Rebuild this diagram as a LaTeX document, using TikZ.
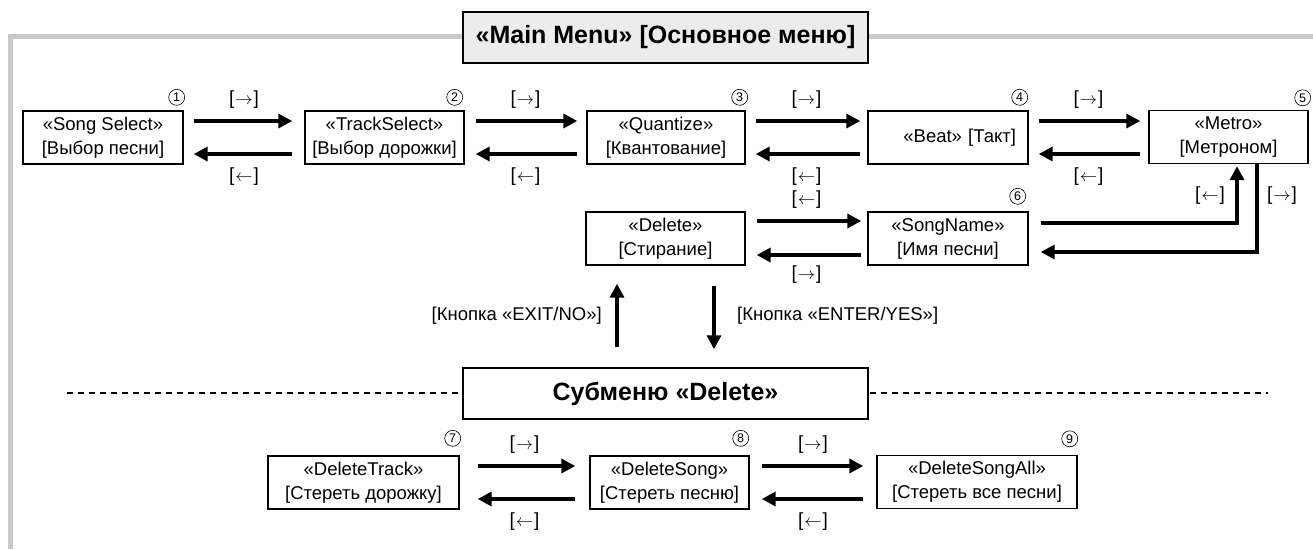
\documentclass[tikz,border=0pt]{standalone}
\usepackage{fontspec}
\setmainfont{Liberation Sans}
\usetikzlibrary{arrows.meta,calc}
\definecolor{framegray}{RGB}{200,200,200}
\definecolor{titlefill}{RGB}{236,236,236}
\newcommand{\keyR}{{[}$\mkern1mu\rightarrow\mkern1mu${]}}
\newcommand{\keyL}{{[}$\mkern1mu\leftarrow\mkern1mu${]}}
\begin{document}
\begin{tikzpicture}[x=1pt,y=-1pt,
  box/.style={draw, line width=1.4pt, minimum height=53pt, align=center, inner sep=0pt,
    font=\fontsize{18.5}{24}\selectfont},
  titlebox/.style={draw, line width=1.4pt, minimum width=405pt, minimum height=51pt,
    inner sep=0pt, font=\fontsize{25}{28}\selectfont\bfseries},
  arr/.style={line width=4.5pt, -{Triangle[length=14pt,width=14pt]}},
  lbl/.style={inner sep=0pt, font=\fontsize{18.5}{20}\selectfont},
  keylbl/.style={inner sep=0pt, font=\fontsize{19}{20}\selectfont},
  num/.style={circle, draw, line width=0.6pt, minimum size=16pt, inner sep=0pt,
    font=\fontsize{12.5}{12.5}\selectfont},
  frameline/.style={line width=5.5pt, draw=framegray},
  sepline/.style={line width=2.5pt, dash pattern=on 6pt off 5pt}
]
\useasboundingbox (0,0) rectangle (1313,549);

% outer frame
\coordinate (fb) at (10.3,549);
\coordinate (fc) at (10.3,36.7);
\coordinate (fr) at (1313,36.7);
\draw[frameline] (fb) -- (fc) -- (fr);

% separator
\coordinate (dl) at (67,393);
\coordinate (dr) at (1268,393);
\draw[sepline] (dl) -- (dr);

% titles
\node[titlebox, fill=titlefill] (title) at (665.5,37.5) {«Main Menu» [Основное меню]};
\node[titlebox, fill=white] (sub) at (665.5,393.5) {Субменю «Delete»};

% row 1
\node[box, minimum width=160pt] (b1) at (103,137.5) {«Song Select»\\{}[Выбор песни]};
\node[box, minimum width=159pt] (b2) at (384.5,137.5) {«TrackSelect»\\{}[Выбор дорожки]};
\node[box, minimum width=158pt] (b3) at (666,137.5) {«Quantize»\\{}[Квантование]};
\node[box, minimum width=160pt, text width=136pt, align=right] (b4) at (948,137.5) {«Beat» [Такт]};
\node[box, minimum width=159pt] (b5) at (1228.5,137) {«Metro»\\{}[Метроном]};
% row 2
\node[box, minimum width=159pt] (b6) at (665.5,238.5) {«Delete»\\{}[Стирание]};
\node[box, minimum width=160pt] (b7) at (948,238.5) {«SongName»\\{}[Имя песни]};
% row 3
\node[box, minimum width=191pt] (b8) at (363.5,482.5) {«DeleteTrack»\\{}[Стереть дорожку]};
\node[box, minimum width=159pt] (b9) at (669.5,482.5) {«DeleteSong»\\{}[Стереть песню]};
\node[box, minimum width=200pt] (b10) at (977,482) {«DeleteSongAll»\\{}[Стереть все песни]};

% numbers
\node[num] (n1) at ($(b1.north east)+(-7,-13)$) {1};
\node[num] (n2) at ($(b2.north east)+(-10,-13)$) {2};
\node[num] (n3) at ($(b3.north east)+(-6,-13)$) {3};
\node[num] (n4) at ($(b4.north east)+(-9,-13)$) {4};
\node[num] (n5) at ($(b5.north east)+(-6,-12)$) {5};
\node[num] (n6) at ($(b7.north east)+(-11,-15)$) {6};
\node[num] (n7) at ($(b8.north east)+(-7,-17)$) {7};
\node[num] (n8) at ($(b9.north east)+(-9,-17)$) {8};
\node[num] (n9) at ($(b10.north east)+(-8,-16)$) {9};

% row 1 arrows
\foreach \a/\b/\g/\h in {b1/b2/10/12, b2/b3/11/9, b3/b4/10/7, b4/b5/10/8}{
  \draw[arr] ($(\a.east)+(\g,-16.5)$) -- ($(\b.west |- \a.east)+(-\h,-16.5)$);
  \draw[arr] ($(\b.west |- \a.east)+(-\h,16.5)$) -- ($(\a.east)+(\g,16.5)$);
  \node[keylbl] at ($(\a.east)!0.5!(\b.west |- \a.east)+(0,-37.5)$) {\keyR};
  \node[keylbl] at ($(\a.east)!0.5!(\b.west |- \a.east)+(0,39.5)$) {\keyL};
}

% row 2 arrows
\draw[arr] ($(b6.east)+(11,-17.5)$) -- ($(b7.west)+(-6,-17.5)$);
\draw[arr] ($(b7.west)+(-6,16.5)$) -- ($(b6.east)+(11,16.5)$);
\node[keylbl] at ($(b6.east)!0.5!(b7.west)+(0,-38.5)$) {\keyL};
\node[keylbl] at ($(b6.east)!0.5!(b7.west)+(0,36.5)$) {\keyR};

% SongName <-> Metro
\draw[arr, line join=miter] ($(b7.east)+(12,-15.5)$) -| ($(b5.south)+(8.5,2)$);
\draw[arr, line join=miter] ($(b5.south)+(28.5,0)$) |- ($(b7.east)+(12,13.5)$);
\node[keylbl] at ($(b5.south)+(-18.5,31)$) {\keyL};
\node[keylbl] at ($(b5.south)+(53.5,31)$) {\keyR};

% Delete <-> submenu
\draw[arr] ($(sub.north)+(-48.5,-20)$) -- ($(b6.south)+(-48.5,18)$);
\draw[arr] ($(b6.south)+(48.5,20)$) -- ($(sub.north)+(48.5,-18)$);
\node[lbl, anchor=east] at ($(b6.south)+(-63.5,50)$) {[Кнопка «EXIT/NO»]};
\node[lbl, anchor=west] at ($(b6.south)+(71.5,50)$) {[Кнопка «ENTER/YES»]};

% row 3 arrows
\foreach \a/\b/\g/\h in {b8/b9/18/14, b9/b10/12/13}{
  \draw[arr] ($(\a.east)+(\g,-16.5)$) -- ($(\b.west |- \a.east)+(-\h,-16.5)$);
  \draw[arr] ($(\b.west |- \a.east)+(-\h,16.5)$) -- ($(\a.east)+(\g,16.5)$);
  \node[keylbl] at ($(\a.east)!0.5!(\b.west |- \a.east)+(0,-37.5)$) {\keyR};
  \node[keylbl] at ($(\a.east)!0.5!(\b.west |- \a.east)+(0,39.5)$) {\keyL};
}
\end{tikzpicture}
\end{document}
